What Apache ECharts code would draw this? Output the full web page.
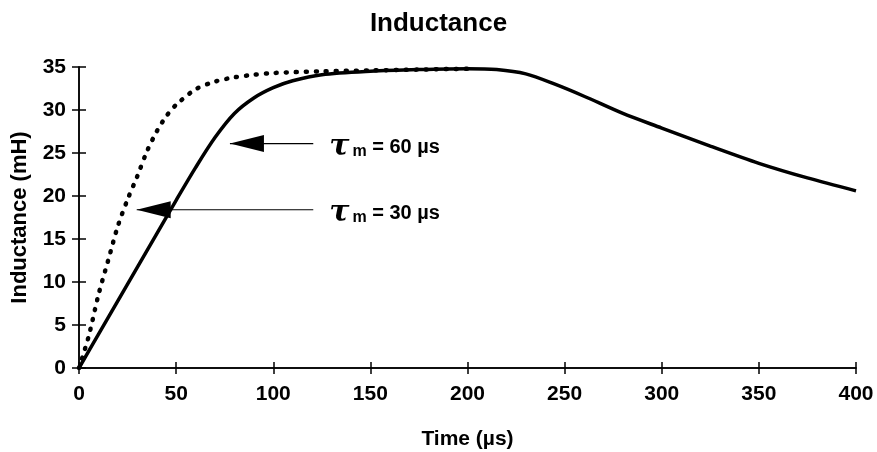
<!DOCTYPE html>
<html>
<head>
	<meta charset="utf-8">
	<title>Inductance</title>
	<script src="https://cdn.jsdelivr.net/npm/echarts@6/dist/echarts.min.js"></script>
	<style>
		html, body { margin: 0; padding: 0; background: #fff; }
		#chart { width: 877px; height: 452px; }
	</style>
</head>
<body>
<div id="chart"></div>
<script>
	// tau_m = 60 us (solid)
	var t60 = [0, 10, 20, 30, 40, 50, 60, 70, 80, 90, 100, 110, 125, 150, 175, 200, 215, 230, 245, 260, 280, 300, 325, 350, 375, 400];
	var L60 = [0, 3.9, 7.8, 11.7, 15.6, 19.5, 23.3, 26.8, 29.6, 31.4, 32.6, 33.4, 34.1, 34.5, 34.7, 34.8, 34.7, 34.2, 33.0, 31.6, 29.6, 27.9, 25.8, 23.8, 22.1, 20.6];
	// tau_m = 30 us (dotted)
	var t30 = [0, 5, 10, 15, 20, 25, 30, 35, 40, 45, 50, 60, 70, 80, 90, 100, 125, 150, 175, 200];
	var L30 = [0, 3.7, 8.5, 12.5, 16.5, 19.6, 22.3, 25.2, 27.5, 29.3, 30.6, 32.4, 33.3, 33.8, 34.1, 34.3, 34.5, 34.6, 34.7, 34.8];
	// annotation arrows: [tail, tip]
	var arrow60 = [[120.6, 26.1], [77.7, 26.1]];
	var arrow30 = [[120.6, 18.4], [29.7, 18.4]];
	var labels = ['60', '30'];

	var xTicks = { min: 0, max: 400, interval: 50 };
	var yTicks = { min: 0, max: 35, interval: 5 };

	function zip(a, b) {
		return a.map(function (v, i) { return [v, b[i]]; });
	}

	var font = 'Liberation Sans';
	var black = '#000';

	function arrowSeries(pts, txt) {
		return [{
			type: 'line',
			data: pts,
			symbol: 'none',
			lineStyle: { color: black, width: 1.2, opacity: 1 },
			silent: true,
			z: 3
		}, {
			type: 'scatter',
			data: [pts[1]],
			symbol: 'triangle',
			symbolSize: [17, 34],
			symbolRotate: 90,
			symbolOffset: [17, 0],
			itemStyle: { color: black, opacity: 1 },
			silent: true,
			z: 4
		}, {
			type: 'scatter',
			data: [pts[0]],
			symbolSize: 0,
			silent: true,
			itemStyle: { opacity: 1 },
			label: {
				show: true,
				position: 'right',
				distance: 16,
				offset: [0, 8],
				color: black,
				formatter: '{t|τ}{m|m}{r| = ' + txt + ' µs}',
				rich: {
					t: { fontFamily: 'DejaVu Serif', fontStyle: 'italic', fontWeight: 'bold', fontSize: 30, color: black, padding: [0, 3, 9, 0] },
					m: { fontFamily: font, fontWeight: 'bold', fontSize: 16, color: black },
					r: { fontFamily: font, fontWeight: 'bold', fontSize: 20, color: black, padding: [0, 0, 8, 0] }
				}
			}
		}];
	}

	var axisText = { fontFamily: font, fontWeight: 'bold', fontSize: 21, color: black };
	var tickStyle = { color: black, width: 1.5 };
	var gridBox = { left: 79, right: 21, top: 67, bottom: 84, outerBoundsMode: 'none' };

	var option = {
		backgroundColor: '#fff',
		animation: false,
		title: {
			text: 'Inductance',
			left: 'center',
			top: 6,
			textStyle: { fontFamily: font, fontWeight: 'bold', fontSize: 26, color: black }
		},
		// second grid only carries the inner half of the crossing ticks
		grid: [Object.assign({}, gridBox), Object.assign({}, gridBox)],
		xAxis: [{
			type: 'value',
			min: xTicks.min, max: xTicks.max, interval: xTicks.interval,
			name: 'Time (µs)',
			nameLocation: 'middle',
			nameGap: 61,
			nameTextStyle: { fontFamily: font, fontWeight: 'bold', fontSize: 21, color: black },
			axisLine: { lineStyle: tickStyle },
			axisTick: { length: 6, lineStyle: tickStyle },
			axisLabel: Object.assign({ margin: 16 }, axisText),
			splitLine: { show: false }
		}, {
			type: 'value', gridIndex: 1,
			min: xTicks.min, max: xTicks.max, interval: xTicks.interval,
			axisLine: { show: true, lineStyle: tickStyle },
			axisTick: { show: true, inside: true, length: 6, lineStyle: tickStyle },
			axisLabel: { show: false },
			splitLine: { show: false }
		}],
		yAxis: [{
			type: 'value',
			min: yTicks.min, max: yTicks.max, interval: yTicks.interval,
			name: 'Inductance (mH)',
			nameLocation: 'middle',
			nameGap: 48,
			nameTextStyle: { fontFamily: font, fontWeight: 'bold', fontSize: 22, color: black },
			axisLine: { show: true, lineStyle: tickStyle },
			axisTick: { show: true, length: 7, lineStyle: tickStyle },
			axisLabel: Object.assign({ margin: 13 }, axisText),
			splitLine: { show: false }
		}, {
			type: 'value', gridIndex: 1,
			min: yTicks.min, max: yTicks.max, interval: yTicks.interval,
			axisLine: { show: true, lineStyle: tickStyle },
			axisTick: { show: true, inside: true, length: 7, lineStyle: tickStyle },
			axisLabel: { show: false },
			splitLine: { show: false }
		}],
		series: [{
			name: 'tau60',
			type: 'line',
			data: zip(t60, L60),
			smooth: 0.3,
			symbol: 'none',
			lineStyle: { color: black, width: 3.5 },
			z: 2
		}, {
			name: 'tau30',
			type: 'line',
			data: zip(t30, L30),
			smooth: 0.3,
			symbol: 'none',
			lineStyle: { color: black, width: 4.5, type: [1, 9], cap: 'round' },
			z: 2
		}].concat(arrowSeries(arrow60, labels[0]), arrowSeries(arrow30, labels[1]))
	};

	var chart = echarts.init(document.getElementById('chart'));
	chart.setOption(option);
</script>
</body>
</html>
